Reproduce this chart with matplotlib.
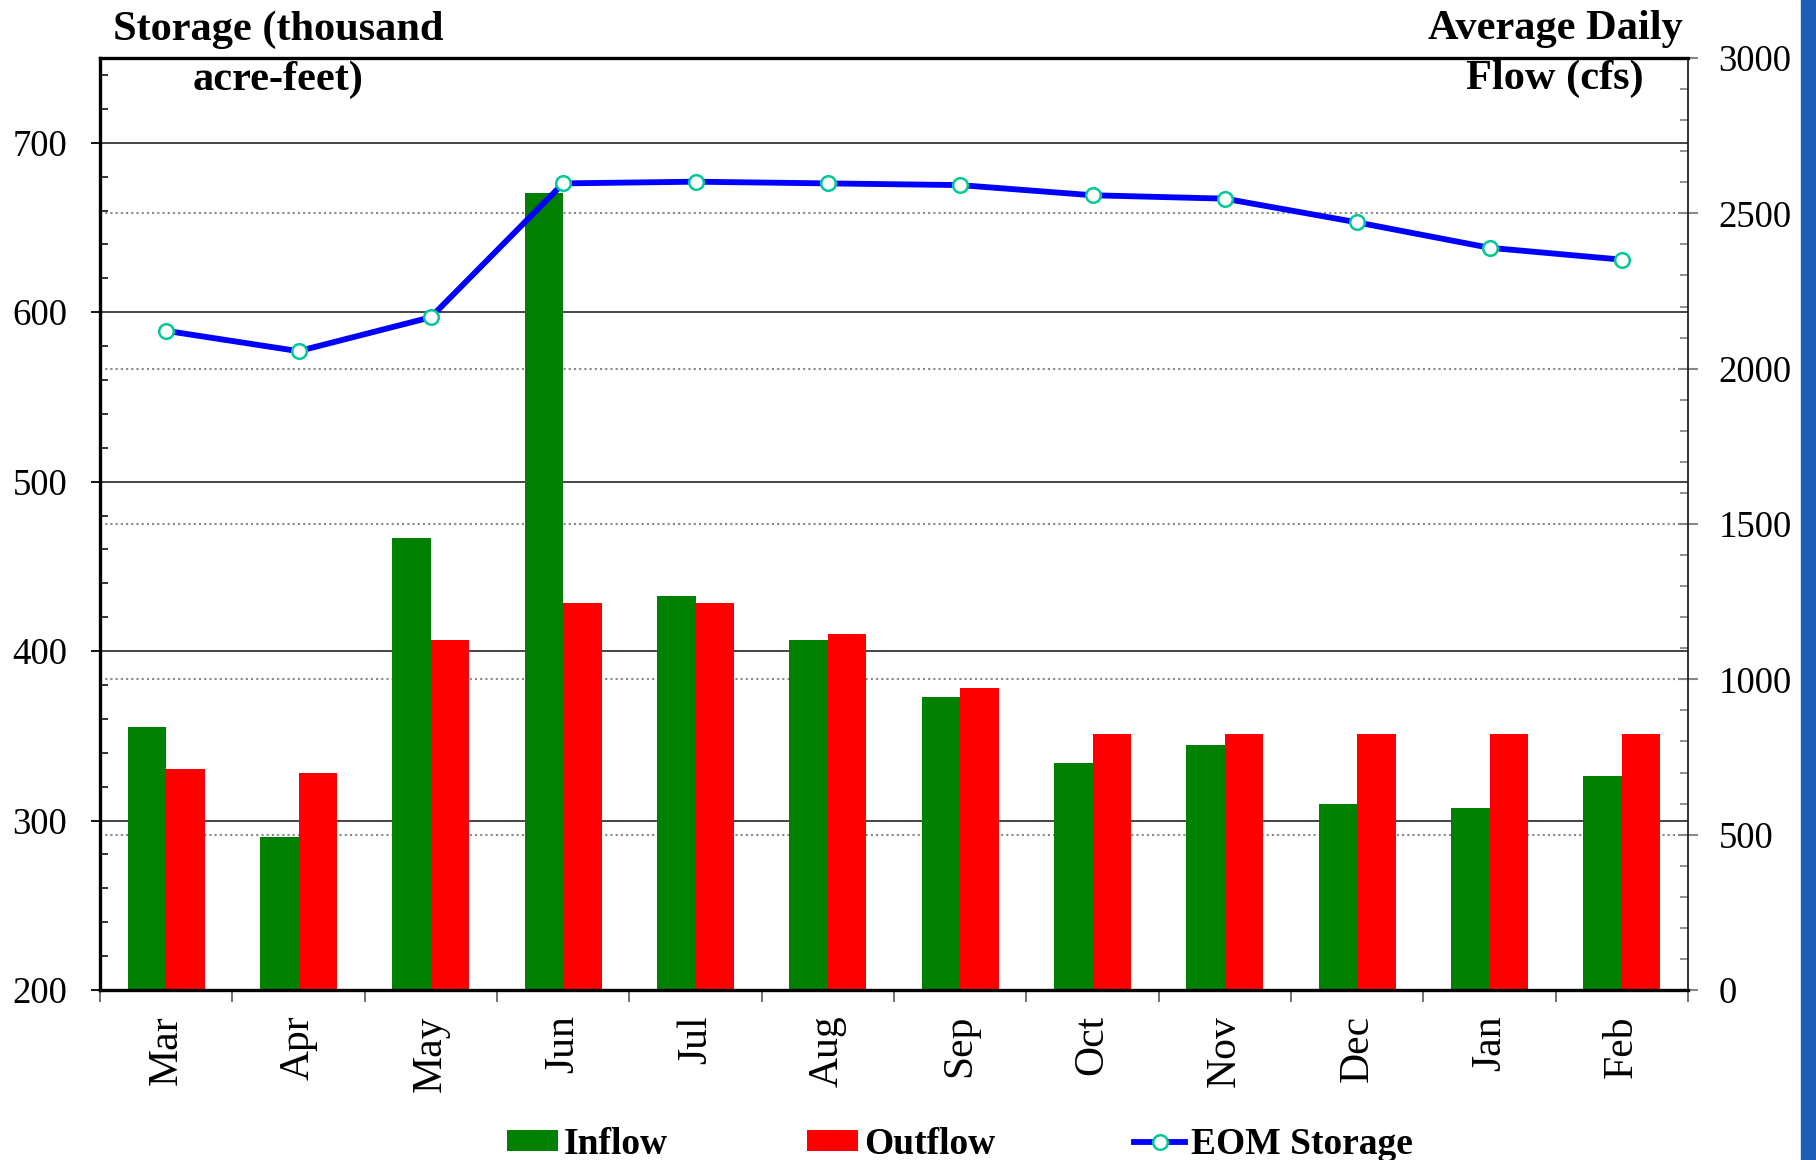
"""Monthly inflow / outflow bars with end-of-month storage line (twin axes)."""

import numpy as np
import matplotlib
matplotlib.use("Agg")
import matplotlib.pyplot as plt
from matplotlib.patches import Rectangle

months = ["Mar", "Apr", "May", "Jun", "Jul", "Aug",
          "Sep", "Oct", "Nov", "Dec", "Jan", "Feb"]
# average daily flow, cfs (right axis)
inflow = [845, 494, 1455, 2564, 1269, 1128, 944, 730, 788, 598, 585, 688]
outflow = [710, 698, 1126, 1247, 1247, 1146, 971, 823, 823, 823, 823, 823]
# end-of-month storage, thousand acre-feet (left axis)
eom_storage = [589, 577, 597, 676, 677, 676, 675, 669, 667, 653, 638, 631]

stor_ticks = [200, 300, 400, 500, 600, 700]
flow_ticks = [0, 500, 1000, 1500, 2000, 2500, 3000]

plt.rcParams["font.family"] = ["Liberation Serif", "DejaVu Serif"]

W, H = 1816, 1160
fig = plt.figure(figsize=(W / 100, H / 100), dpi=100)
rect = [100 / W, 1 - 990 / H, 1588 / W, 932 / H]
ax = fig.add_axes(rect)          # storage scale, solid grid
axf = ax.twinx()                 # flow scale, bars, dotted grid
axl = ax.twinx()                 # storage line + frame on top

x = np.arange(len(months))
bw = 0.29

# storage axis (left)
ax.set_xlim(-0.5, len(months) - 0.5)
ax.set_ylim(200, 750)
ax.set_yticks(stor_ticks)
ax.set_yticks(np.arange(200, 751, 20), minor=True)
ax.grid(True, axis="y", which="major", color="#444444", lw=1.4, ls="-")
ax.tick_params(axis="y", which="major", direction="out", length=6.5,
               width=1.3, color="black", labelsize=26.5, pad=17)
ax.tick_params(axis="y", which="minor", direction="in", length=6,
               width=1.1, color="black")
ax.set_xticks(np.arange(-0.5, len(months), 1))
ax.set_xticklabels([])
ax.set_xticks(x, minor=True)
ax.set_xticklabels(months, minor=True, rotation=90)
ax.tick_params(axis="x", which="major", direction="out", length=8.5,
               width=1.3, color="#666666")
ax.tick_params(axis="x", which="minor", length=0, labelsize=30, pad=18)
for s in ax.spines.values():
    s.set_visible(False)

# flow axis (right)
axf.set_ylim(0, 3000)
axf.set_yticks(flow_ticks)
axf.set_yticks(np.arange(0, 3001, 100), minor=True)
axf.set_axisbelow(True)
axf.grid(True, axis="y", which="major", color="#888888", lw=1.5, ls=(0, (1, 1.5)))
axf.tick_params(axis="y", which="major", direction="inout", length=14,
                width=1.5, color="#888888", labelsize=26.5, pad=15)
axf.tick_params(axis="y", which="minor", direction="in", length=6,
                width=1.3, color="#888888")
for s in axf.spines.values():
    s.set_visible(False)

b1 = axf.bar(x - bw / 2, inflow, bw, color="#008000", label="Inflow")
b2 = axf.bar(x + bw / 2, outflow, bw, color="#ff0000", label="Outflow")

# storage line, plus the frame drawn over the grid
axl.set_ylim(ax.get_ylim())
axl.set_yticks([])
axl.patch.set_visible(False)
for s in ["left", "bottom", "top"]:
    axl.spines[s].set_linewidth(2.4)
    axl.spines[s].set_color("black")
axl.spines["right"].set_linewidth(1.3)
axl.spines["right"].set_color("#222222")
ln, = axl.plot(x, eom_storage, color="#0000ff", lw=4.2, marker="o",
               ms=10.5, mfc="white", mec="#00c896", mew=1.8,
               label="EOM Storage", zorder=5)

# axis titles
title_kw = dict(ha="center", va="baseline", fontsize=30.5, fontweight="bold")
fig.text(278 / W, 1 - 40 / H, "Storage (thousand", **title_kw)
fig.text(278 / W, 1 - 90 / H, "acre-feet)", **title_kw)
fig.text(1555 / W, 1 - 39 / H, "Average Daily", **title_kw)
fig.text(1555 / W, 1 - 89 / H, "Flow (cfs)", **title_kw)

fig.legend(handles=[b1, b2, ln], loc="center", ncol=3, frameon=False,
           bbox_to_anchor=(960 / W, 1 - 1144 / H),
           prop={"size": 27, "weight": "bold"}, handlelength=1.36,
           handleheight=0.5, handletextpad=0.16, columnspacing=3.7,
           borderpad=0)

# blue strip along the right edge of the original image
fig.patches.append(Rectangle((1801 / W, 0), 15 / W, 1,
                             transform=fig.transFigure, color="#1d5fb8"))

fig.savefig("out.png", dpi=100)
